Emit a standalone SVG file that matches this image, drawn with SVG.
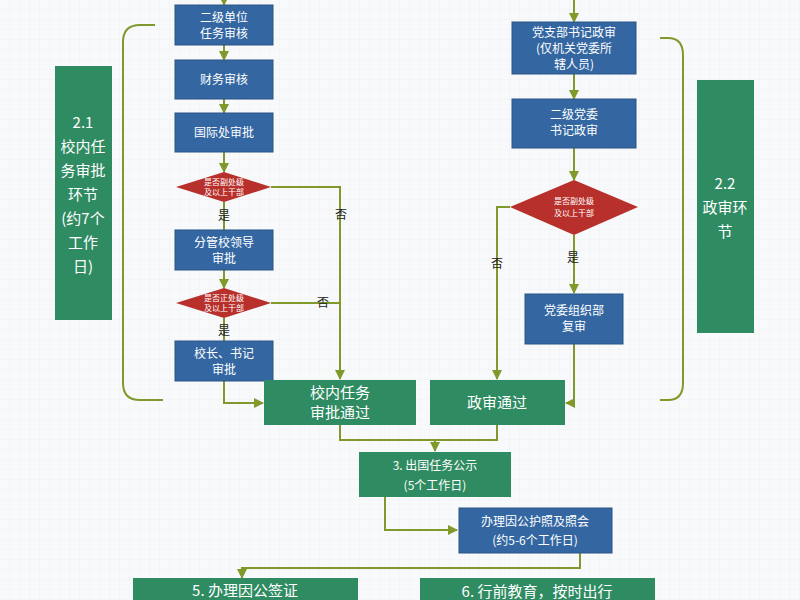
<svg xmlns="http://www.w3.org/2000/svg" width="800" height="600" viewBox="0 0 800 600">
<defs>
<style>
.b{fill:#3467a2;stroke:#2a5585;stroke-width:1}
.g{fill:#2f8b62}
.r{fill:#b8302c}
.t{font-family:"Noto Sans CJK SC","Liberation Sans",sans-serif;fill:#fff;text-anchor:middle;font-size:12px}
.tg{font-family:"Noto Sans CJK SC","Liberation Sans",sans-serif;fill:#fff;text-anchor:middle;font-size:15px}
.td{font-family:"Noto Sans CJK SC","Liberation Sans",sans-serif;fill:#fff;text-anchor:middle;font-size:8px}
.k{font-family:"Noto Sans CJK SC","Liberation Sans",sans-serif;fill:#222;text-anchor:middle;font-size:12px}
.c{fill:none;stroke:#7f9a2a;stroke-width:2}
</style>
<marker id="a" viewBox="0 0 10 10" refX="9" refY="5" markerWidth="5" markerHeight="5" orient="auto"><path d="M0,0L10,5L0,10z" fill="#7f9a2a"/></marker>
<pattern id="grid" width="10" height="10" patternUnits="userSpaceOnUse"><path d="M10,0V10H0" fill="none" stroke="#e9ecee" stroke-width="0.6"/></pattern>
</defs>
<rect width="800" height="600" fill="#f8f9fa"/>
<rect width="800" height="600" fill="url(#grid)"/>
<g id="connectors">
<path class="c" d="M224,0V5" marker-end="url(#a)"/>
<path class="c" d="M224,45V60" marker-end="url(#a)"/>
<path class="c" d="M224,99V113" marker-end="url(#a)"/>
<path class="c" d="M224,152V172" marker-end="url(#a)"/>
<path class="c" d="M224,202V230"/>
<path class="c" d="M224,270V288" marker-end="url(#a)"/>
<path class="c" d="M224,318V341"/>
<path class="c" d="M271,187H340V379" marker-end="url(#a)"/>
<path class="c" d="M271,303H340"/>
<path class="c" d="M224,381V403H263" marker-end="url(#a)"/>
<path class="c" d="M574,0V22" marker-end="url(#a)"/>
<path class="c" d="M574,74V99" marker-end="url(#a)"/>
<path class="c" d="M574,148V180" marker-end="url(#a)"/>
<path class="c" d="M510,207H497V379" marker-end="url(#a)"/>
<path class="c" d="M574,235V293" marker-end="url(#a)"/>
<path class="c" d="M574,344V403H566" marker-end="url(#a)"/>
<path class="c" d="M340,425V440H497V425"/>
<path class="c" d="M435,440V451" marker-end="url(#a)"/>
<path class="c" d="M385,497V530H457" marker-end="url(#a)"/>
<path class="c" d="M580,553V568H242V578" marker-end="url(#a)"/>
<path class="c" d="M155,25H140Q123,25 123,42V383Q123,400 140,400H163"/>
<path class="c" d="M660,38H668Q683,38 683,55V383Q683,400 668,400H660"/>
<text class="k" x="341" y="219">否</text>
<text class="k" x="323" y="307">否</text>
<text class="k" x="224" y="220">是</text>
<text class="k" x="224" y="335">是</text>
<text class="k" x="497" y="268">否</text>
<text class="k" x="573" y="262">是</text>
</g>
<g id="label21"><rect class="g" x="55" y="66" width="57" height="254"/>
<text class="tg" x="83" y="128">2.1</text><text class="tg" x="83" y="152">校内任</text><text class="tg" x="83" y="176">务审批</text><text class="tg" x="83" y="200">环节</text><text class="tg" x="83" y="224">(约7个</text><text class="tg" x="83" y="248">工作</text><text class="tg" x="83" y="272">日)</text></g>
<g id="label22"><rect class="g" x="697" y="80" width="57" height="253"/>
<text class="tg" x="725" y="189">2.2</text><text class="tg" x="725" y="213">政审环</text><text class="tg" x="725" y="237">节</text></g>
<g id="n1"><rect class="b" x="175" y="5" width="98" height="40"/><text class="t" x="224" y="22">二级单位</text><text class="t" x="224" y="38">任务审核</text></g>
<g id="n2"><rect class="b" x="175" y="60" width="98" height="39"/><text class="t" x="224" y="84">财务审核</text></g>
<g id="n3"><rect class="b" x="175" y="113" width="98" height="39"/><text class="t" x="224" y="137">国际处审批</text></g>
<g id="d1"><path class="r" d="M176,187L224,172L271,187L224,202z"/><text class="td" x="224" y="185">是否副处级</text><text class="td" x="224" y="195">及以上干部</text></g>
<g id="n4"><rect class="b" x="175" y="230" width="98" height="40"/><text class="t" x="224" y="247">分管校领导</text><text class="t" x="224" y="263">审批</text></g>
<g id="d2"><path class="r" d="M176,303L224,288L271,303L224,318z"/><text class="td" x="224" y="301">是否正处级</text><text class="td" x="224" y="311">及以上干部</text></g>
<g id="n5"><rect class="b" x="175" y="341" width="98" height="40"/><text class="t" x="224" y="358">校长、书记</text><text class="t" x="224" y="374">审批</text></g>
<g id="pass1"><rect class="g" x="264" y="380" width="152" height="45"/><text class="tg" x="340" y="398">校内任务</text><text class="tg" x="340" y="418">审批通过</text></g>
<g id="m1"><rect class="b" x="512" y="22" width="124" height="52"/><text class="t" x="574" y="37" font-size="11">党支部书记政审</text><text class="t" x="574" y="53" font-size="11">(仅机关党委所</text><text class="t" x="574" y="69" font-size="11">辖人员)</text></g>
<g id="m2"><rect class="b" x="512" y="99" width="124" height="49"/><text class="t" x="574" y="119">二级党委</text><text class="t" x="574" y="135">书记政审</text></g>
<g id="d3"><path class="r" d="M510,207L574,180L638,207L574,235z"/><text class="td" x="574" y="204">是否副处级</text><text class="td" x="574" y="216">及以上干部</text></g>
<g id="m3"><rect class="b" x="525" y="294" width="98" height="50"/><text class="t" x="574" y="315">党委组织部</text><text class="t" x="574" y="331">复审</text></g>
<g id="pass2"><rect class="g" x="430" y="380" width="135" height="45"/><text class="tg" x="497" y="408">政审通过</text></g>
<g id="s3"><rect class="g" x="359" y="452" width="152" height="45"/><text class="t" x="435" y="470" font-size="13">3. 出国任务公示</text><text class="t" x="435" y="490" font-size="13">(5个工作日)</text></g>
<g id="s4"><rect class="b" x="459" y="508" width="153" height="45"/><text class="t" x="535" y="526">办理因公护照及照会</text><text class="t" x="535" y="545" font-size="10">(约5-6个工作日)</text></g>
<g id="s5"><rect class="g" x="133" y="578" width="225" height="30"/><text class="tg" x="245" y="596" font-size="14">5. 办理因公签证</text></g>
<g id="s6"><rect class="g" x="420" y="578" width="235" height="30"/><text class="tg" x="537" y="597" font-size="13">6. 行前教育，按时出行</text></g>
</svg>
